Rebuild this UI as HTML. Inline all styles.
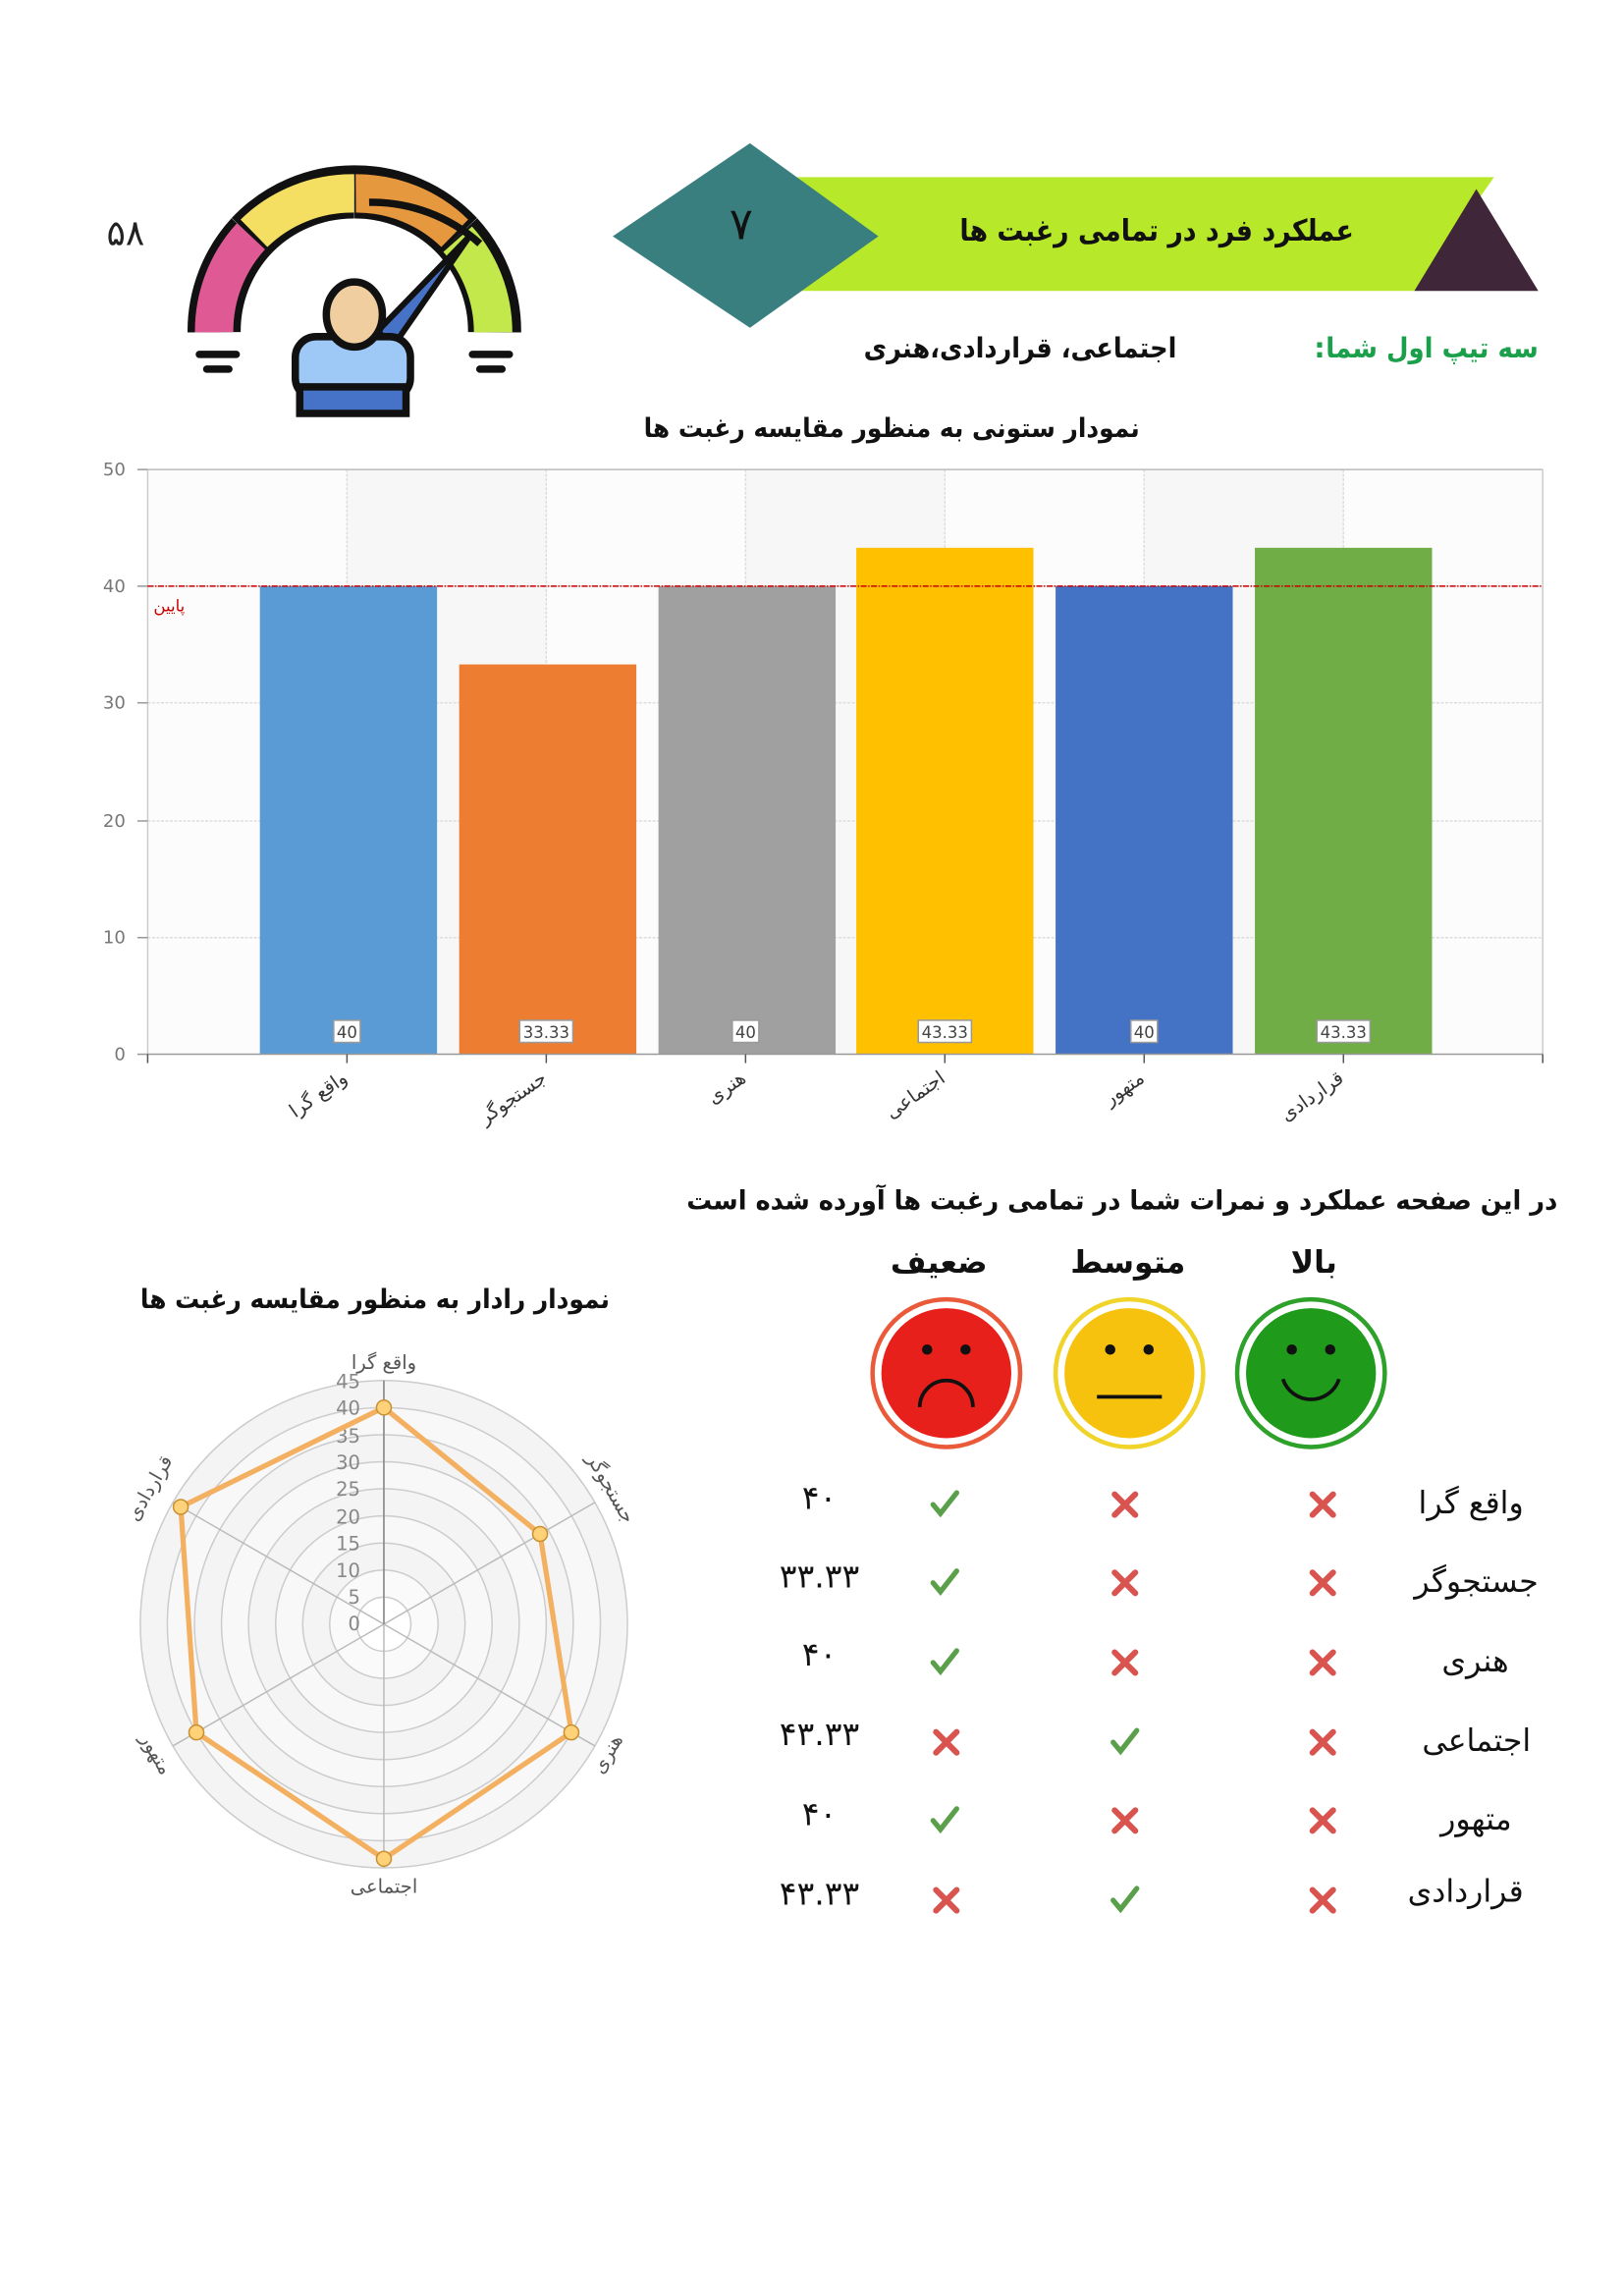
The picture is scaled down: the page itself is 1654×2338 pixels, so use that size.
<!DOCTYPE html>
<html><head><meta charset="utf-8"><style>
html,body{margin:0;padding:0;background:#fff}
svg{display:block}
text{font-family:"DejaVu Sans","Liberation Sans",sans-serif}
</style></head><body>
<svg width="1654" height="2338" viewBox="0 0 1100 1555" xmlns="http://www.w3.org/2000/svg">
<rect width="1100" height="1555" fill="#fff"/>
<!-- header -->
<text x="85" y="166" font-size="24" text-anchor="middle" fill="#222">۵۸</text>
<polygon points="540,120 1012,120 958,197 540,197" fill="#b8e82a"/>
<polygon points="958,197 1000,128 1042,197" fill="#3f2639"/>
<polygon points="415,160 508,97 595,160 508,222" fill="#3a7f80"/>
<text x="502" y="162" font-size="30" text-anchor="middle" fill="#111">۷</text>
<text x="917" y="163" font-size="20" font-weight="bold" text-anchor="end" textLength="267" lengthAdjust="spacingAndGlyphs" fill="#111">عملکرد فرد در تمامی رغبت ها</text>
<text x="1042" y="242" font-size="19" font-weight="bold" text-anchor="end" textLength="144" lengthAdjust="spacingAndGlyphs" fill="#1aa04a">سه تیپ اول شما</text>
<text x="890" y="242" font-size="19" font-weight="bold" fill="#1aa04a">:</text>
<text x="797" y="242" font-size="19" font-weight="bold" text-anchor="end" textLength="212" lengthAdjust="spacingAndGlyphs" fill="#111">اجتماعی، قراردادی،هنری</text>
<!-- gauge icon -->
<g stroke="#111" stroke-width="6" fill="none">
<path d="M145,225 A95,95 0 0 1 170,160" stroke="#111" stroke-width="36"/>
<path d="M145,225 A95,95 0 0 1 170,160" stroke="#df5a94" stroke-width="26"/>
<path d="M170,160 A95,95 0 0 1 240,130" stroke="#111" stroke-width="36"/>
<path d="M172,158 A95,95 0 0 1 240,131" stroke="#f5df62" stroke-width="26"/>
<path d="M240,130 A95,95 0 0 1 310,160" stroke="#111" stroke-width="36"/>
<path d="M241,131 A95,95 0 0 1 308,158" stroke="#e6983e" stroke-width="26"/>
<path d="M310,160 A95,95 0 0 1 335,225" stroke="#111" stroke-width="36"/>
<path d="M310,162 A95,95 0 0 1 334,225" stroke="#c2e84c" stroke-width="26"/>
<path d="M250,137 A110,110 0 0 1 325,165" stroke-width="5"/>
</g>
<polygon points="255,225 318,160 268,232" fill="#4672c8" stroke="#111" stroke-width="4"/>
<rect x="200" y="228" width="78" height="42" rx="14" fill="#9ec8f5" stroke="#111" stroke-width="5"/>
<ellipse cx="240" cy="213" rx="19" ry="22" fill="#f0ceA0" stroke="#111" stroke-width="5"/>
<rect x="203" y="262" width="72" height="18" fill="#4672c8" stroke="#111" stroke-width="5"/>
<g stroke="#111" stroke-width="5" stroke-linecap="round">
<line x1="135" y1="240" x2="160" y2="240"/><line x1="140" y1="250" x2="155" y2="250"/>
<line x1="320" y1="240" x2="345" y2="240"/><line x1="325" y1="250" x2="340" y2="250"/>
</g>
<!-- bar chart -->
<text x="772" y="296" font-size="18" font-weight="bold" text-anchor="end" textLength="336" lengthAdjust="spacingAndGlyphs" fill="#111">نمودار ستونی به منظور مقایسه رغبت ها</text>
<rect x="100" y="318" width="945" height="396" fill="#f7f7f7"/>
<g fill="#fcfcfc"><rect x="100" y="318" width="135" height="396"/><rect x="370" y="318" width="135" height="396"/><rect x="640" y="318" width="135" height="396"/><rect x="910" y="318" width="135" height="396"/></g>
<g stroke="#ddd" stroke-width="1" stroke-dasharray="2,1">
<line x1="100" y1="397" x2="1045" y2="397"/><line x1="100" y1="476" x2="1045" y2="476"/><line x1="100" y1="556" x2="1045" y2="556"/><line x1="100" y1="635" x2="1045" y2="635"/>
<line x1="235" y1="318" x2="235" y2="714"/><line x1="370" y1="318" x2="370" y2="714"/><line x1="505" y1="318" x2="505" y2="714"/><line x1="640" y1="318" x2="640" y2="714"/><line x1="775" y1="318" x2="775" y2="714"/><line x1="910" y1="318" x2="910" y2="714"/>
</g>
<line x1="100" y1="318" x2="1045" y2="318" stroke="#bbb"/>
<line x1="1045" y1="318" x2="1045" y2="714" stroke="#ccc"/>
<line x1="100" y1="318" x2="100" y2="714" stroke="#ccc"/>
<g fill="#777" font-size="12" text-anchor="end">
<text x="85" y="322">50</text><text x="85" y="401">40</text><text x="85" y="480">30</text><text x="85" y="560">20</text><text x="85" y="639">10</text><text x="85" y="718">0</text>
</g>
<g stroke="#999"><line x1="93" y1="318" x2="100" y2="318"/><line x1="93" y1="397" x2="100" y2="397"/><line x1="93" y1="476" x2="100" y2="476"/><line x1="93" y1="556" x2="100" y2="556"/><line x1="93" y1="635" x2="100" y2="635"/><line x1="93" y1="714" x2="100" y2="714"/></g>
<rect x="176" y="397" width="120" height="317" fill="#5b9bd5"/>
<rect x="311" y="450" width="120" height="264" fill="#ed7d31"/>
<rect x="446" y="397" width="120" height="317" fill="#a0a0a0"/>
<rect x="580" y="371" width="120" height="343" fill="#ffc000"/>
<rect x="715" y="397" width="120" height="317" fill="#4472c4"/>
<rect x="850" y="371" width="120" height="343" fill="#70ad47"/>
<line x1="100" y1="397" x2="1045" y2="397" stroke="#c00" stroke-width="1" stroke-dasharray="4,1,1,1"/>
<text x="104" y="414" font-size="11" fill="#c00">پایین</text>
<line x1="100" y1="714" x2="1045" y2="714" stroke="#999"/>
<g stroke="#555"><line x1="100" y1="714" x2="100" y2="720"/><line x1="1045" y1="714" x2="1045" y2="720"/><line x1="235" y1="714" x2="235" y2="720"/><line x1="370" y1="714" x2="370" y2="720"/><line x1="505" y1="714" x2="505" y2="720"/><line x1="640" y1="714" x2="640" y2="720"/><line x1="775" y1="714" x2="775" y2="720"/><line x1="910" y1="714" x2="910" y2="720"/></g>
<g font-size="11" fill="#444" text-anchor="middle">
<rect x="226" y="691" width="18" height="15" fill="#fff" stroke="#999"/><text x="235" y="703">40</text>
<rect x="352" y="691" width="36" height="15" fill="#fff" stroke="#999"/><text x="370" y="703">33.33</text>
<rect x="496" y="691" width="18" height="15" fill="#fff" stroke="#999"/><text x="505" y="703">40</text>
<rect x="622" y="691" width="36" height="15" fill="#fff" stroke="#999"/><text x="640" y="703">43.33</text>
<rect x="766" y="691" width="18" height="15" fill="#fff" stroke="#999"/><text x="775" y="703">40</text>
<rect x="892" y="691" width="36" height="15" fill="#fff" stroke="#999"/><text x="910" y="703">43.33</text>
</g>
<g font-size="13" fill="#333" text-anchor="end">
<text transform="translate(236,732) rotate(-35)">واقع گرا</text>
<text transform="translate(371,732) rotate(-35)">جستجوگر</text>
<text transform="translate(506,732) rotate(-35)">هنری</text>
<text transform="translate(641,732) rotate(-35)">اجتماعی</text>
<text transform="translate(776,732) rotate(-35)">متهور</text>
<text transform="translate(911,732) rotate(-35)">قراردادی</text>
</g>
<!-- radar -->
<text x="413" y="886" font-size="18" font-weight="bold" text-anchor="end" textLength="318" lengthAdjust="spacingAndGlyphs" fill="#111">نمودار رادار به منظور مقایسه رغبت ها</text>
<g transform="translate(260,1100)">
<circle r="165" fill="#f4f4f4" stroke="#ccc"/>
<circle r="146.7" fill="#f8f8f8" stroke="#ccc"/>
<circle r="128.3" fill="#f4f4f4" stroke="#ccc"/>
<circle r="110" fill="#f8f8f8" stroke="#ccc"/>
<circle r="91.7" fill="#f4f4f4" stroke="#ccc"/>
<circle r="73.3" fill="#f8f8f8" stroke="#ccc"/>
<circle r="55" fill="#f4f4f4" stroke="#ccc"/>
<circle r="36.7" fill="#fafafa" stroke="#ccc"/>
<circle r="18.3" fill="#fff" stroke="#ccc"/>
<g stroke="#bbb"><line x1="0" y1="0" x2="0" y2="-165"/><line x1="0" y1="0" x2="0" y2="165"/><line x1="0" y1="0" x2="143" y2="-82.5"/><line x1="0" y1="0" x2="143" y2="82.5"/><line x1="0" y1="0" x2="-143" y2="-82.5"/><line x1="0" y1="0" x2="-143" y2="82.5"/></g>
<line x1="0" y1="0" x2="0" y2="-165" stroke="#888"/>
<g font-size="13" fill="#888" text-anchor="end">
<text x="-16" y="-160">45</text><text x="-16" y="-142">40</text><text x="-16" y="-123">35</text><text x="-16" y="-105">30</text><text x="-16" y="-87">25</text><text x="-16" y="-68">20</text><text x="-16" y="-50">15</text><text x="-16" y="-32">10</text><text x="-16" y="-14">5</text><text x="-16" y="4">0</text>
</g>
<polygon points="0,-146.7 105.8,-61.1 127,73.3 0,158.9 -127,73.3 -137.6,-79.4" fill="none" stroke="#f4b061" stroke-width="3.5"/>
<g fill="#ffd27a" stroke="#c8902e" stroke-width="1"><circle cx="0" cy="-146.7" r="5"/><circle cx="105.8" cy="-61.1" r="5"/><circle cx="127" cy="73.3" r="5"/><circle cx="0" cy="158.9" r="5"/><circle cx="-127" cy="73.3" r="5"/><circle cx="-137.6" cy="-79.4" r="5"/></g>
<g font-size="13" fill="#555" text-anchor="middle">
<text x="0" y="-173">واقع گرا</text>
<text transform="translate(150,-90) rotate(60)">جستجوگر</text>
<text transform="translate(155,90) rotate(-60)">هنری</text>
<text x="0" y="182">اجتماعی</text>
<text transform="translate(-158,90) rotate(60)">متهور</text>
<text transform="translate(-155,-90) rotate(-60)">قراردادی</text>
</g>
</g>
<!-- table -->
<text x="1055" y="819" font-size="18" font-weight="bold" text-anchor="end" textLength="590" lengthAdjust="spacingAndGlyphs" fill="#111">در این صفحه عملکرد و نمرات شما در تمامی رغبت ها آورده شده است</text>
<g font-size="21" font-weight="bold" text-anchor="middle" fill="#111">
<text x="636" y="862">ضعیف</text><text x="764" y="862">متوسط</text><text x="890" y="862">بالا</text>
</g>
<g>
<circle cx="641" cy="930" r="50" fill="#fff" stroke="#ea5a3a" stroke-width="3"/><circle cx="641" cy="930" r="44" fill="#e8201c"/>
<circle cx="628" cy="914" r="3.5" fill="#111"/><circle cx="654" cy="914" r="3.5" fill="#111"/>
<path d="M623,953 A18,18 0 0 1 659,953" fill="none" stroke="#111" stroke-width="2.5"/>
<circle cx="765" cy="930" r="50" fill="#fff" stroke="#f1d42a" stroke-width="3"/><circle cx="765" cy="930" r="44" fill="#f6c20e"/>
<circle cx="752" cy="914" r="3.5" fill="#111"/><circle cx="778" cy="914" r="3.5" fill="#111"/>
<line x1="743" y1="946" x2="787" y2="946" stroke="#111" stroke-width="2.5"/>
<circle cx="888" cy="930" r="50" fill="#fff" stroke="#2ea12a" stroke-width="3"/><circle cx="888" cy="930" r="44" fill="#1f9a1a"/>
<circle cx="875" cy="914" r="3.5" fill="#111"/><circle cx="901" cy="914" r="3.5" fill="#111"/>
<path d="M869,934 A20,20 0 0 0 907,934" fill="none" stroke="#111" stroke-width="2.5"/>
</g>
<g font-size="21" text-anchor="end" fill="#111">
<text x="1032" y="1025">واقع گرا</text><text x="1042" y="1078">جستجوگر</text><text x="1022" y="1132">هنری</text>
<text x="1037" y="1186">اجتماعی</text><text x="1024" y="1239">متهور</text><text x="1032" y="1288">قراردادی</text>
</g>
<g font-size="22" text-anchor="middle" fill="#111">
<text x="555" y="1022">۴۰</text><text x="555" y="1075">۳۳.۳۳</text><text x="555" y="1128">۴۰</text>
<text x="555" y="1182">۴۳.۳۳</text><text x="555" y="1236">۴۰</text><text x="555" y="1290">۴۳.۳۳</text>
</g>
<defs>
<g id="ok"><path d="M-8,0 L-3,6 L8,-8" fill="none" stroke="#5aa04a" stroke-width="3.5" stroke-linecap="round"/></g>
<g id="no"><path d="M-7,-7 L7,7 M7,-7 L-7,7" fill="none" stroke="#d9534f" stroke-width="4" stroke-linecap="round"/></g>
</defs>
<use href="#ok" x="640" y="1019"/><use href="#no" x="762" y="1019"/><use href="#no" x="896" y="1019"/>
<use href="#ok" x="640" y="1072"/><use href="#no" x="762" y="1072"/><use href="#no" x="896" y="1072"/>
<use href="#ok" x="640" y="1126"/><use href="#no" x="762" y="1126"/><use href="#no" x="896" y="1126"/>
<use href="#no" x="641" y="1180"/><use href="#ok" x="762" y="1180"/><use href="#no" x="896" y="1180"/>
<use href="#ok" x="640" y="1233"/><use href="#no" x="762" y="1233"/><use href="#no" x="896" y="1233"/>
<use href="#no" x="641" y="1287"/><use href="#ok" x="762" y="1287"/><use href="#no" x="896" y="1287"/>
</svg>
</body></html>
